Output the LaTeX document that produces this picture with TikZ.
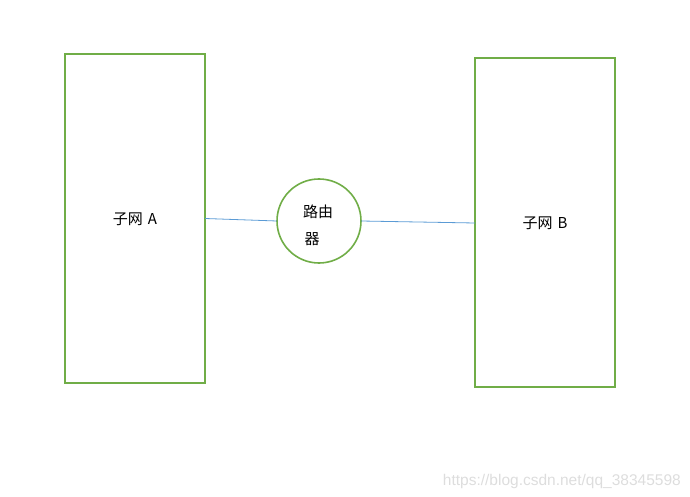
\documentclass[tikz,border=0pt]{standalone}
\usepackage{fontspec}
\newfontfamily\cjk{Noto Sans CJK SC}
\setmainfont{Carlito}
\definecolor{boxgreen}{HTML}{70AD47}
\definecolor{linkblue}{HTML}{5B9BD5}
\definecolor{wmgray}{HTML}{DDDDDD}
\begin{document}
\begin{tikzpicture}[x=1pt,y=-1pt,
  subnet/.style={draw=boxgreen,line width=2pt,minimum width=140pt,minimum height=329pt,inner sep=0pt},
  router/.style={draw=boxgreen,line width=1.6pt,circle,minimum size=84pt,inner sep=0pt},
  link/.style={draw=linkblue,line width=0.8pt},
  lbl/.style={font=\cjk\fontsize{15}{18}\selectfont,inner sep=0pt}]
\useasboundingbox (0,0) rectangle (690,497);
\node[subnet] (A) at (135,218.5) {};
\node[subnet] (B) at (545,222.5) {};
\node[router] (R) at (319,221) {};
\node[lbl] (tA) at (135,219) {子网\hspace{5pt}A};
\node[lbl] (tB) at (545,223) {子网\hspace{5pt}B};
\node[lbl] (tR1) at (318,212) {路由};
\node[lbl] (tR2) at (312,239) {器};
\coordinate (a1) at (205,218.5);
\coordinate (r1) at (277,221);
\coordinate (r2) at (361,221);
\coordinate (b1) at (475,223);
\draw[link] (a1) -- (r1);
\draw[link] (r2) -- (b1);
\node[font=\fontspec{Liberation Sans}\fontsize{15.5}{18}\selectfont,text=wmgray,inner sep=0pt,anchor=east] (wm) at (681,481) {https://blog.csdn.net/qq\_38345598};
\end{tikzpicture}
\end{document}
